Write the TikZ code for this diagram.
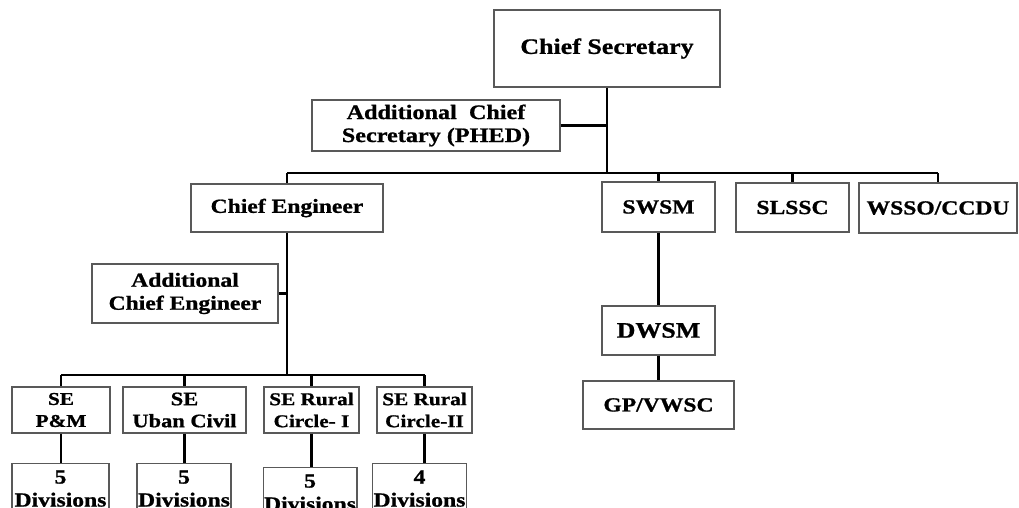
\documentclass[tikz,border=0pt]{standalone}
\usepackage{fontspec}
\setmainfont{Liberation Serif}[FakeStretch=1.18, BoldFeatures={FakeBold=0.9}]
\usetikzlibrary{positioning}

\tikzset{
  post/.style={draw=black!65, line width=1.2pt, fill=white, align=center,
    inner sep=1pt, font=\bfseries\fontsize{20}{23}\selectfont},
  link/.style={line width=2.6pt, black},
}

\begin{document}
\begin{tikzpicture}[x=1pt, y=-1pt]
  \useasboundingbox (0,0) rectangle (1019,508);
  \clip (0,0) rectangle (1019,508);

  % top level
  \node[post, minimum width=226, minimum height=77, font=\bfseries\fontsize{22}{25}\selectfont] (cs) at (607,48.5) {Chief Secretary};
  \node[post, minimum width=248, minimum height=51, font=\bfseries\fontsize{20.5}{23}\selectfont] (acs) at (436,125.5) {Additional~~Chief\\Secretary (PHED)};

  % second level
  \node[post, minimum width=192, minimum height=48] (ce) at (287,208) {Chief Engineer};
  \node[post, minimum width=113, minimum height=50] (swsm) at (658.5,207) {SWSM};
  \node[post, minimum width=113, minimum height=49] (slssc) at (792.5,207.5) {SLSSC};
  \node[post, minimum width=158, minimum height=50] (wsso) at (938,208) {WSSO/CCDU};
  \node[post, minimum width=186, minimum height=59] (ace) at (185,293.5) {Additional\\Chief Engineer};

  % mission side
  \node[post, minimum width=113, minimum height=49, font=\bfseries\fontsize{22}{25}\selectfont] (dwsm) at (658.5,330.5) {DWSM};
  \node[post, minimum width=151, minimum height=48] (gp) at (658.5,405) {GP/VWSC};

  % circles
  \node[post, minimum width=98, minimum height=46, font=\bfseries\fontsize{18}{22}\selectfont] (se1) at (61,410) {SE\\P\&M};
  \node[post, minimum width=123, minimum height=46, font=\bfseries\fontsize{19}{22}\selectfont] (se2) at (184.5,410) {SE\\Uban Civil};
  \node[post, minimum width=95, minimum height=46, font=\bfseries\fontsize{18}{22}\selectfont] (se3) at (311.5,410) {SE Rural\\Circle- I};
  \node[post, minimum width=95, minimum height=46, font=\bfseries\fontsize{18}{22}\selectfont] (se4) at (424.5,410) {SE Rural\\Circle-II};

  % divisions
  \node[post, minimum width=97, minimum height=50, anchor=north] (d1) at (60.5,463) {5\\Divisions};
  \node[post, minimum width=90, minimum height=50, anchor=north] (d2) at (184,463) {5\\Divisions};
  \node[post, minimum width=92, minimum height=50, anchor=north] (d3) at (310,467) {5\\Divisions};
  \node[post, minimum width=85, minimum height=50, anchor=north] (d4) at (419.5,463) {4\\Divisions};

  % bus lines
  \coordinate (bus) at (0,173);
  \coordinate (sebus) at (0,375);

  \draw[link] (cs.south) -- (cs.south |- bus);
  \draw[link] (acs.east) -- (acs.east -| cs.south);
  \draw[link] (ce.north |- bus) -- (wsso.north |- bus);
  \foreach \n in {ce,swsm,slssc,wsso}
    \draw[link] (\n.north |- bus) -- (\n.north);

  \draw[link] (ce.south) -- (ce.south |- sebus);
  \draw[link] (ace.east) -- (ace.east -| ce.south);
  \draw[link] (se1.north |- sebus) -- (se4.north |- sebus);
  \foreach \i in {1,2,3,4} {
    \draw[link] (se\i.north |- sebus) -- (se\i.north);
    \draw[link] (se\i.south) -- (se\i.south |- d\i.north);
  }

  \draw[link] (swsm.south) -- (dwsm.north);
  \draw[link] (dwsm.south) -- (gp.north);
\end{tikzpicture}
\end{document}
